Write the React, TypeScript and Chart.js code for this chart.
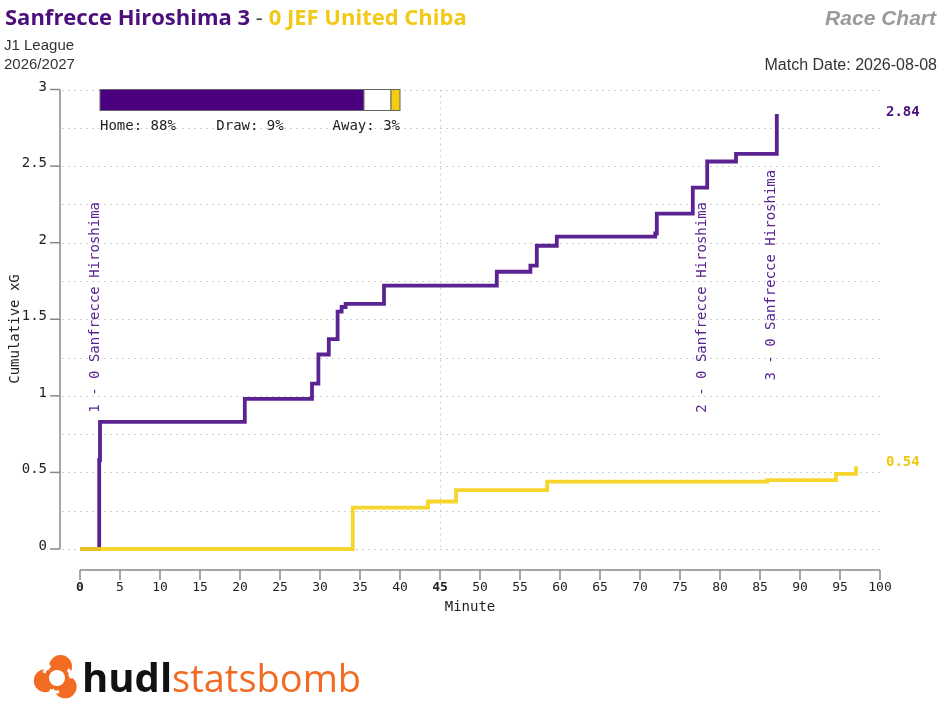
import { useEffect, useRef } from 'react';
import { Chart, registerables } from 'chart.js';

Chart.register(...registerables);

const homeTeam = 'Sanfrecce Hiroshima';
const awayTeam = 'JEF United Chiba';
const homeScore = 3;
const awayScore = 0;
const competition = 'J1 League';
const season = '2026/2027';
const matchDate = '2026-08-08';

const homeMinutes = [0, 2.4, 2.5, 20.6, 29.0, 29.8, 31.1, 32.2, 32.7, 33.2, 38.0, 52.1, 56.3, 57.1, 59.6, 71.9, 72.1, 76.6, 78.4, 82.0, 87.1];
const homeXg = [0, 0.58, 0.83, 0.98, 1.08, 1.27, 1.37, 1.55, 1.58, 1.6, 1.72, 1.81, 1.85, 1.98, 2.04, 2.06, 2.19, 2.36, 2.53, 2.58, 2.84];

const awayMinutes = [0, 34.1, 43.5, 47.0, 58.4, 85.9, 94.5, 97.0];
const awayXg = [0, 0.27, 0.31, 0.385, 0.44, 0.45, 0.49, 0.54];

const goalMinutes = [2.5, 78.4, 87.1];
const goalLabels = ['1 - 0 Sanfrecce Hiroshima', '2 - 0 Sanfrecce Hiroshima', '3 - 0 Sanfrecce Hiroshima'];
const goalLabelBase = [0.89, 0.89, 1.1];

const xTicks = [0, 5, 10, 15, 20, 25, 30, 35, 40, 45, 50, 55, 60, 65, 70, 75, 80, 85, 90, 95, 100];
const xBoldTicks = [0, 45];
const yTicks = [0, 0.5, 1, 1.5, 2, 2.5, 3];
const yGrid = [0, 0.25, 0.5, 0.75, 1, 1.25, 1.5, 1.75, 2, 2.25, 2.5, 2.75, 3];
const xGrid = [45];

const outcomeLabels = ['Home', 'Draw', 'Away'];
const outcomeProbs = [88, 9, 3];

const PURPLE_LINE = '#5a2391';
const PURPLE_BAR = '#4b0082';
const PURPLE_TEXT = '#4a0f7b';
const YELLOW_LINE = 'rgba(245, 208, 22, 0.9)';
const YELLOW_TEXT = '#f2c916';
const MONO = '"DejaVu Sans Mono", monospace';
const SANS = '"Liberation Sans", Arial, sans-serif';
const TITLE = '"Open Sans", sans-serif';

const decorPlugin = {
  id: 'decor',
  beforeDraw(chart: any) {
    const ctx = chart.ctx;
    ctx.save();
    ctx.fillStyle = '#ffffff';
    ctx.fillRect(0, 0, chart.width, chart.height);
    ctx.restore();
  },
  beforeDatasetsDraw(chart: any) {
    const ctx = chart.ctx;
    const xs = chart.scales.x;
    const ys = chart.scales.y;
    const area = chart.chartArea;
    ctx.save();
    ctx.strokeStyle = '#d0d0d0';
    ctx.lineWidth = 1;
    ctx.setLineDash([2, 4]);
    yGrid.forEach((v) => {
      const y = Math.round(ys.getPixelForValue(v)) + 0.5;
      ctx.beginPath();
      ctx.moveTo(area.left - 18, y);
      ctx.lineTo(area.right, y);
      ctx.stroke();
    });
    xGrid.forEach((v) => {
      const x = Math.round(xs.getPixelForValue(v)) + 0.5;
      ctx.beginPath();
      ctx.moveTo(x, area.top);
      ctx.lineTo(x, area.bottom);
      ctx.stroke();
    });
    ctx.restore();
  },
  afterDatasetsDraw(chart: any) {
    const ctx = chart.ctx;
    const xs = chart.scales.x;
    const ys = chart.scales.y;
    const area = chart.chartArea;
    ctx.save();

    // Y axis
    const yAxisX = area.left - 20;
    ctx.strokeStyle = '#888888';
    ctx.lineWidth = 1.5;
    ctx.beginPath();
    ctx.moveTo(yAxisX, ys.getPixelForValue(3));
    ctx.lineTo(yAxisX, ys.getPixelForValue(0));
    ctx.stroke();
    ctx.font = `14px ${MONO}`;
    ctx.fillStyle = '#222222';
    ctx.textAlign = 'right';
    ctx.textBaseline = 'alphabetic';
    yTicks.forEach((v) => {
      const y = ys.getPixelForValue(v);
      ctx.beginPath();
      ctx.moveTo(yAxisX - 10, y);
      ctx.lineTo(yAxisX, y);
      ctx.stroke();
      ctx.fillText(String(v), yAxisX - 13, y + 1);
    });
    ctx.save();
    ctx.translate(15, 329);
    ctx.rotate(-Math.PI / 2);
    ctx.textAlign = 'center';
    ctx.textBaseline = 'middle';
    ctx.fillText('Cumulative xG', 0, 0);
    ctx.restore();

    // X axis
    const xAxisY = area.bottom + 21;
    ctx.beginPath();
    ctx.moveTo(xs.getPixelForValue(0), xAxisY);
    ctx.lineTo(xs.getPixelForValue(100), xAxisY);
    ctx.stroke();
    ctx.textAlign = 'center';
    xTicks.forEach((v) => {
      const x = xs.getPixelForValue(v);
      ctx.beginPath();
      ctx.moveTo(x, xAxisY);
      ctx.lineTo(x, xAxisY + 10);
      ctx.stroke();
      ctx.font = `${xBoldTicks.includes(v) ? 'bold ' : ''}13px ${MONO}`;
      ctx.fillText(String(v), x, xAxisY + 21);
    });
    ctx.font = `14px ${MONO}`;
    ctx.fillText('Minute', 470, 611);

    // Goal labels
    ctx.fillStyle = PURPLE_LINE;
    ctx.font = `14px ${MONO}`;
    goalMinutes.forEach((m, i) => {
      ctx.save();
      ctx.translate(xs.getPixelForValue(m) - 5, ys.getPixelForValue(goalLabelBase[i]));
      ctx.rotate(-Math.PI / 2);
      ctx.textAlign = 'left';
      ctx.textBaseline = 'middle';
      ctx.fillText(goalLabels[i], 0, 0);
      ctx.restore();
    });

    // End value labels
    ctx.font = `bold 14px ${MONO}`;
    ctx.textAlign = 'left';
    ctx.textBaseline = 'middle';
    const hLast = homeXg[homeXg.length - 1];
    const aLast = awayXg[awayXg.length - 1];
    ctx.fillStyle = PURPLE_TEXT;
    ctx.fillText(hLast.toFixed(2), area.right + 6, ys.getPixelForValue(hLast) - 2);
    ctx.fillStyle = '#f0c814';
    ctx.fillText(aLast.toFixed(2), area.right + 6, ys.getPixelForValue(aLast) - 4);

    // Outcome probability bar
    const barL = xs.getPixelForValue(2.5);
    const barR = xs.getPixelForValue(40);
    const barT = ys.getPixelForValue(3);
    const barH = 21;
    const total = outcomeProbs.reduce((a, b) => a + b, 0);
    const fills = [PURPLE_BAR, '#ffffff', '#f5cc12'];
    let cx = barL;
    outcomeProbs.forEach((p, i) => {
      const w = ((barR - barL) * p) / total;
      ctx.fillStyle = fills[i];
      ctx.fillRect(cx, barT, w, barH);
      ctx.strokeStyle = '#666666';
      ctx.lineWidth = 1;
      ctx.strokeRect(cx, barT, w, barH);
      cx += w;
    });
    ctx.fillStyle = '#222222';
    ctx.font = `14px ${MONO}`;
    ctx.textBaseline = 'alphabetic';
    const lblY = barT + 40;
    ctx.textAlign = 'left';
    ctx.fillText(`${outcomeLabels[0]}: ${outcomeProbs[0]}%`, barL, lblY);
    ctx.textAlign = 'center';
    ctx.fillText(`${outcomeLabels[1]}: ${outcomeProbs[1]}%`, (barL + barR) / 2, lblY);
    ctx.textAlign = 'right';
    ctx.fillText(`${outcomeLabels[2]}: ${outcomeProbs[2]}%`, barR, lblY);

    // Header
    ctx.textAlign = 'left';
    ctx.textBaseline = 'alphabetic';
    let tx = 5;
    ctx.font = `bold 22px ${TITLE}`;
    const t1 = `${homeTeam} ${homeScore}`;
    ctx.fillStyle = PURPLE_TEXT;
    ctx.fillText(t1, tx, 25);
    tx += ctx.measureText(t1).width;
    ctx.font = `22px ${TITLE}`;
    ctx.fillStyle = '#444444';
    ctx.fillText(' - ', tx, 25);
    tx += ctx.measureText(' - ').width;
    ctx.font = `bold 22px ${TITLE}`;
    ctx.fillStyle = YELLOW_TEXT;
    ctx.fillText(`${awayScore} ${awayTeam}`, tx, 25);

    ctx.font = `15px ${SANS}`;
    ctx.fillStyle = '#333333';
    ctx.fillText(competition, 4, 50);
    ctx.fillText(season, 4, 69);

    ctx.textAlign = 'right';
    ctx.font = `italic bold 21px ${SANS}`;
    ctx.fillStyle = '#9a9a9a';
    ctx.fillText('Race Chart', 936, 25);
    ctx.font = `16px ${SANS}`;
    ctx.fillStyle = '#333333';
    ctx.fillText(`Match Date: ${matchDate}`, 937, 70);

    // Logo
    const lx = 57;
    const ly = 678;
    ctx.fillStyle = '#f26b22';
    for (let k = 0; k < 3; k++) {
      const a = -Math.PI / 2 + (k * 2 * Math.PI) / 3 + 0.3;
      ctx.beginPath();
      ctx.arc(lx + Math.cos(a) * 12, ly + Math.sin(a) * 12, 11.5, 0, Math.PI * 2);
      ctx.fill();
    }
    ctx.fillStyle = '#ffffff';
    ctx.beginPath();
    ctx.arc(lx, ly, 8, 0, Math.PI * 2);
    ctx.fill();
    ctx.strokeStyle = '#ffffff';
    ctx.lineWidth = 3;
    for (let k = 0; k < 3; k++) {
      const a = -Math.PI / 2 + (k * 2 * Math.PI) / 3 + 0.9;
      ctx.beginPath();
      ctx.arc(lx, ly, 14, a, a + 0.7);
      ctx.stroke();
    }
    ctx.textAlign = 'left';
    ctx.textBaseline = 'alphabetic';
    ctx.font = `bold 40px ${TITLE}`;
    ctx.fillStyle = '#111111';
    ctx.fillText('hudl', 82, 692);
    const hw = ctx.measureText('hudl').width;
    ctx.font = `38px ${TITLE}`;
    ctx.fillStyle = '#f26b22';
    ctx.fillText('statsbomb', 82 + hw, 692);

    ctx.restore();
  },
};

export default function App() {
  const ref = useRef<HTMLCanvasElement | null>(null);
  useEffect(() => {
    document.body.style.margin = '0';
    const canvas = ref.current;
    if (!canvas) return;
    const chart = new Chart(canvas, {
      type: 'line',
      data: {
        datasets: [
          {
            label: awayTeam,
            data: awayMinutes.map((m, i) => ({ x: m, y: awayXg[i] })),
            borderColor: YELLOW_LINE,
            borderWidth: 3.8,
            pointRadius: 0,
            stepped: 'before',
            fill: false,
            clip: false,
          },
          {
            label: homeTeam,
            data: homeMinutes.map((m, i) => ({ x: m, y: homeXg[i] })),
            borderColor: PURPLE_LINE,
            borderWidth: 3.8,
            pointRadius: 0,
            stepped: 'before',
            fill: false,
            clip: false,
            borderCapStyle: 'butt',
          },
        ],
      },
      options: {
        animation: false,
        responsive: false,
        devicePixelRatio: 1,
        layout: { padding: { left: 80, right: 60, top: 89.5, bottom: 171 } },
        plugins: { legend: { display: false }, tooltip: { enabled: false } },
        scales: {
          x: { type: 'linear', min: 0, max: 100, display: false },
          y: { type: 'linear', min: 0, max: 3, display: false },
        },
      },
      plugins: [decorPlugin],
    } as any);
    return () => chart.destroy();
  }, []);
  return <canvas ref={ref} width={940} height={720} style={{ display: 'block', width: 940, height: 720 }} />;
}
